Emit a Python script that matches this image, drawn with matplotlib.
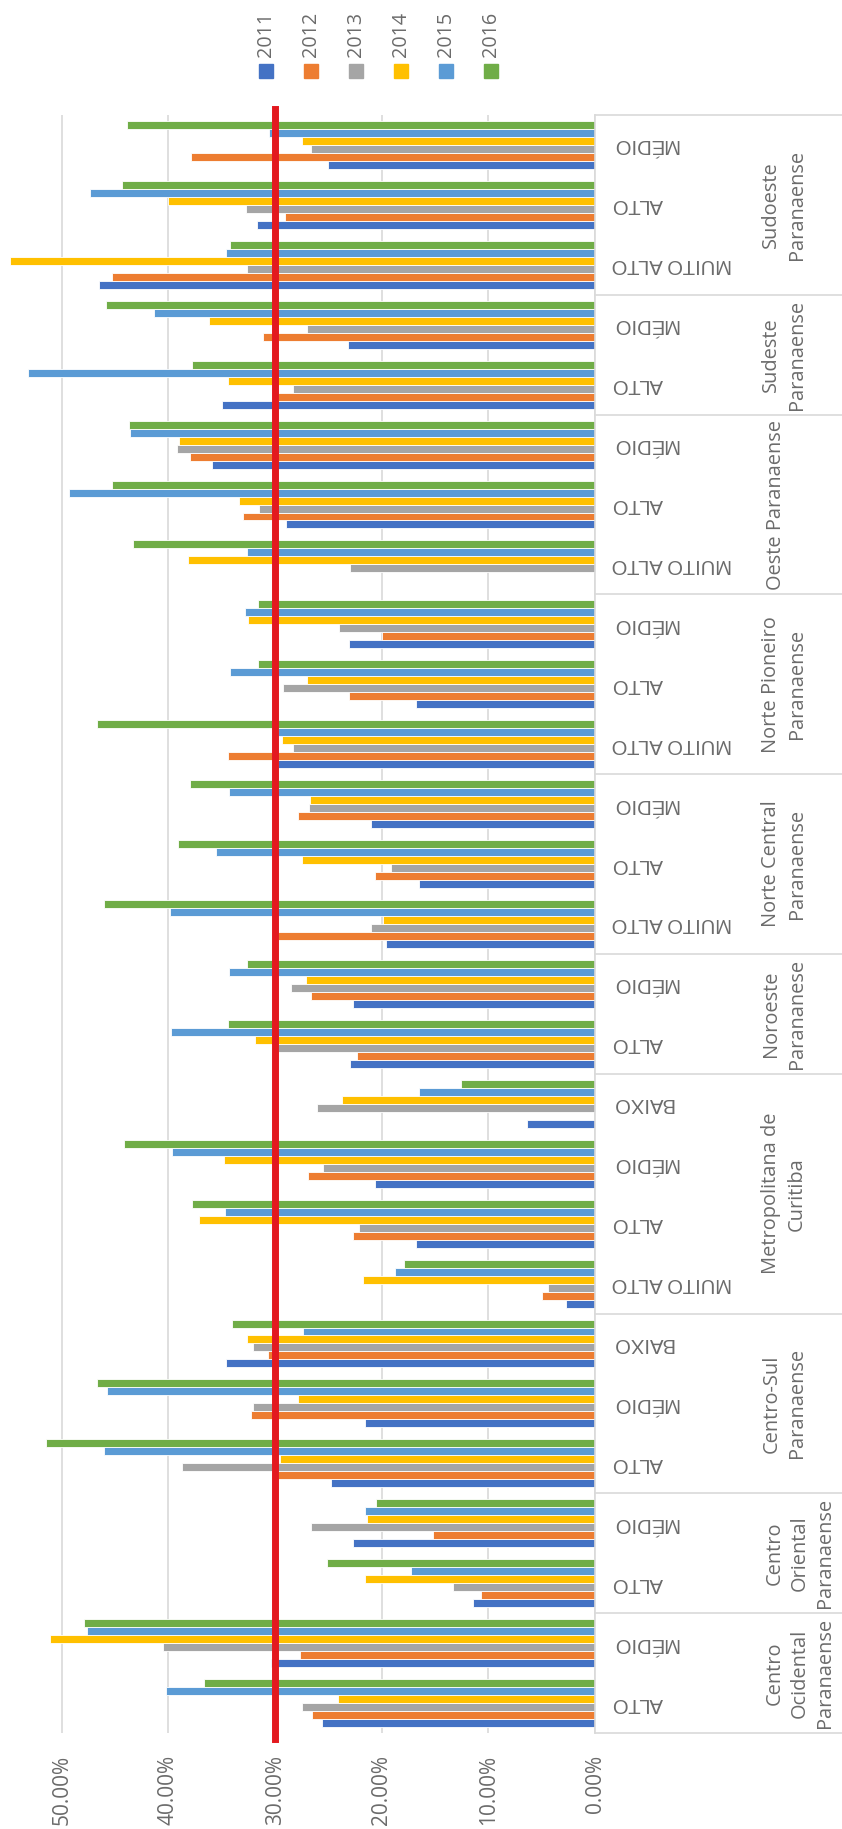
import matplotlib.pyplot as plt
from matplotlib.patches import Rectangle
from matplotlib.ticker import FuncFormatter
import numpy as np

# categories bottom -> top (original chart order)
regions = ['Centro\nOcidental\nParanaense', 'Centro\nOriental\nParanaense',
           'Centro-Sul\nParanaense', 'Metropolitana de\nCuritiba',
           'Noroeste\nParananese', 'Norte Central\nParanaense',
           'Norte Pioneiro\nParanaense', 'Oeste Paranaense',
           'Sudeste\nParanaense', 'Sudoeste\nParanaense']
levels = [['ALTO', 'MÉDIO'],
          ['ALTO', 'MÉDIO'],
          ['ALTO', 'MÉDIO', 'BAIXO'],
          ['MUITO ALTO', 'ALTO', 'MÉDIO', 'BAIXO'],
          ['ALTO', 'MÉDIO'],
          ['MUITO ALTO', 'ALTO', 'MÉDIO'],
          ['MUITO ALTO', 'ALTO', 'MÉDIO'],
          ['MUITO ALTO', 'ALTO', 'MÉDIO'],
          ['ALTO', 'MÉDIO'],
          ['MUITO ALTO', 'ALTO', 'MÉDIO']]

years = ['2011', '2012', '2013', '2014', '2015', '2016']
colors = ['#4472C4', '#ED7D31', '#A5A5A5', '#FFC000', '#5B9BD5', '#70AD47']

# values in % (same order as the flattened categories)
v2011 = [25.6, 30.4, 11.4, 22.7, 24.8, 21.6, 34.6, 2.7, 16.8, 20.6, 6.4,
         23.0, 22.7, 19.6, 16.5, 21.0, 29.7, 16.8, 23.1, 0.0, 29.0, 35.9,
         35.0, 23.2, 46.5, 31.7, 25.0]
v2012 = [26.5, 27.7, 10.7, 15.2, 29.7, 32.3, 30.7, 5.0, 22.7, 26.9, 0.0,
         22.3, 26.6, 29.7, 20.6, 27.9, 34.4, 23.1, 20.0, 0.0, 33.0, 38.0,
         29.7, 31.1, 45.3, 29.1, 37.9]
v2013 = [27.5, 40.5, 13.3, 26.6, 38.7, 32.1, 32.1, 4.4, 22.1, 25.5, 26.1,
         29.7, 28.5, 21.0, 19.1, 26.8, 28.3, 29.3, 24.0, 23.0, 31.5, 39.2,
         28.3, 27.0, 32.6, 32.7, 26.6]
v2014 = [24.1, 51.1, 21.6, 21.4, 29.5, 27.9, 32.6, 21.8, 37.1, 34.8, 23.7,
         31.9, 27.1, 19.9, 27.5, 26.7, 29.4, 27.0, 32.5, 38.2, 33.4, 39.0,
         34.4, 36.2, 54.9, 40.0, 27.5]
v2015 = [40.2, 47.6, 17.3, 21.6, 46.0, 45.8, 27.4, 18.8, 34.7, 39.7, 16.5,
         39.8, 34.3, 39.9, 35.5, 34.3, 29.7, 34.2, 32.8, 32.6, 49.3, 43.6,
         53.2, 41.4, 34.6, 47.4, 30.6]
v2016 = [36.7, 47.9, 25.1, 20.5, 51.5, 46.7, 34.0, 17.9, 37.8, 44.2, 12.6,
         34.4, 32.6, 46.0, 39.1, 38.0, 46.7, 31.6, 31.6, 43.3, 45.3, 43.7,
         37.8, 45.9, 34.2, 44.4, 43.9]
series = [v2011, v2012, v2013, v2014, v2015, v2016]
meta = 0.30

W, H = 842, 1829
grey = '#6b6b6b'
line_c = '#D9D9D9'

fig = plt.figure(figsize=(W / 100, H / 100), dpi=100)
ax = fig.add_axes([0, 1 - 1733 / H, 595 / W, (1733 - 115) / H])

n = sum(len(l) for l in levels)
y = np.arange(n)
step = 0.8 / len(years)
for j, vals in enumerate(series):
    ax.barh(y + (j - 2.5) * step, np.array(vals) / 100, height=step,
            color=colors[j], edgecolor='white', linewidth=0.6, zorder=2)

ax.axvline(meta, ymin=-0.004, ymax=1.004, color='#E3191F', lw=5,
           zorder=4, clip_on=False)

ax.set_xlim(0.558, 0)
ax.set_ylim(-0.5, n - 0.5)
ax.set_xticks(np.arange(0, 0.51, 0.1))
ax.xaxis.set_major_formatter(FuncFormatter(lambda v, p: f'{v * 100:.2f}%'))
ax.tick_params(axis='x', length=0, pad=16, labelrotation=90,
               labelsize=15, labelcolor=grey)
for t in ax.get_xticklabels():
    t.set_fontfamily('Open Sans')
ax.set_yticks([])
ax.grid(axis='x', color=line_c, lw=1.2, zorder=0)
ax.set_axisbelow(True)
for s in ['left', 'top', 'bottom']:
    ax.spines[s].set_visible(False)
ax.spines['right'].set_color(line_c)
ax.spines['right'].set_linewidth(1.2)

# category labels (two levels)
tr = ax.get_yaxis_transform()
k = 0
bounds = [-0.5]
for reg, labs in zip(regions, levels):
    for lab in labs:
        ax.text(612 / 595, k, lab, transform=tr, rotation=180, ha='left',
                va='center', fontsize=14.6, color=grey,
                family='Liberation Sans')
        k += 1
    bounds.append(k - 0.5)
    nl = reg.count('\n') + 1
    xc = {1: 776, 2: 784, 3: 800}[nl]
    ax.text(xc / 595, k - len(labs) / 2 - 0.5, reg, transform=tr,
            rotation=90, ha='center', va='center', fontsize=14.4,
            color=grey, family='Open Sans', linespacing=1.35,
            multialignment='center', clip_on=False)
for b in bounds:
    ax.plot([1.0, W / 595], [b, b], transform=tr, color=line_c, lw=1.2,
            clip_on=False)

# legend
for j, (yr, c) in enumerate(zip(years, colors)):
    cx = 266 + 45 * j
    fig.add_artist(Rectangle(((cx - 7) / W, 1 - 78 / H), 14 / W, 14 / H,
                             transform=fig.transFigure, color=c))
    fig.text(cx / W, 1 - 57 / H, yr, rotation=90, ha='center', va='bottom',
             fontsize=14.2, color=grey, family='Open Sans')

fig.savefig('out.png', dpi=100)
